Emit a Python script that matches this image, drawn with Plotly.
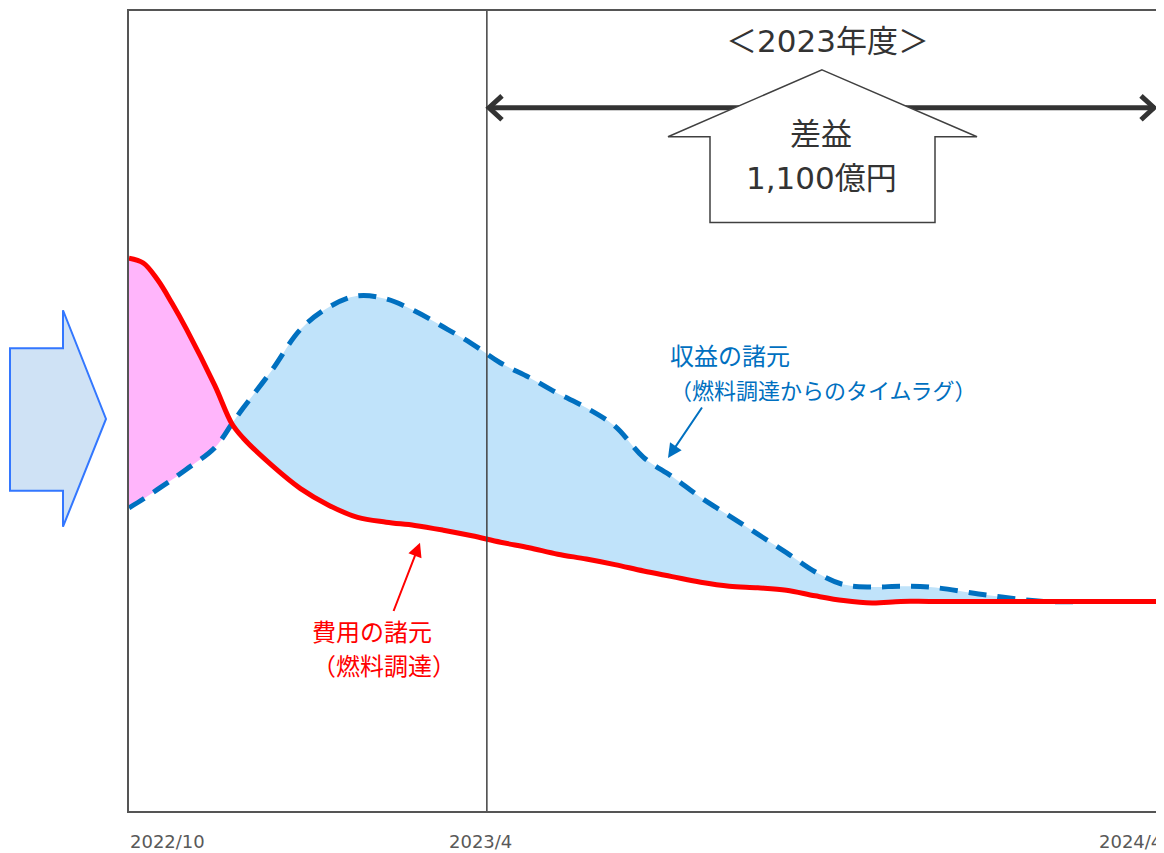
import plotly.graph_objects as go

# ---------------- data ----------------
months = [0, 0.25, 0.5, 0.75, 1, 1.5, 1.8, 2, 2.5, 3, 3.5, 4, 4.5, 5, 5.5, 6, 6.5, 7, 7.5, 8,
          8.5, 9, 9.5, 10, 10.5, 11, 11.5, 12, 12.5, 13, 13.5, 14, 15, 16, 17, 18]
cost = [69.1, 68.5, 66.4, 63.5, 60.3, 53.2, 48.4, 46.6, 43.2, 40.3, 38.2, 36.7, 36.1, 35.7, 35.1,
        34.4, 33.6, 32.9, 32.1, 31.5, 30.8, 30.0, 29.3, 28.6, 28.1, 27.9, 27.6, 26.9,
        26.3, 26.0, 26.2, 26.2, 26.2, 26.2, 26.2, 26.2]
revenue = [37.9, 39.0, 40.2, 41.4, 42.7, 45.4, 48.4, 50.4, 55.1, 60.2, 63.0, 64.4, 64.0, 62.5,
           60.5, 58.4, 56.0, 54.2, 52.2, 50.4, 48.1, 44.2, 41.8, 39.2, 36.9, 34.6, 32.3, 29.9,
           28.3, 28.0, 28.1, 28.0, 27.0, 26.2, 26.2, 26.2]
cross_idx = 6            # index where the two curves cross
tick_pos = [0, 6, 18]
tick_text = ["2022/10", "2023/4", "2024/4"]
fy_start = 6.26          # start of FY2023 marker line
x_range = [0, 18]
y_range = [0, 100]

# ---------------- layout helpers (page pixel -> axis units, decorations only) --------
OFF = 8                       # page body margin
W, H = 1164 - OFF, 853 - OFF
L, R, T, B = 129, 1158, 9, 811
def X(px):
    return (px - L) * (x_range[1] - x_range[0]) / (R - L)
def Y(py):
    return (B - py) * (y_range[1] - y_range[0]) / (B - T)
def PX(px):
    return (px - L) / (R - L)
def PY(py):
    return (B - py) / (B - T)

JP = "DejaVu Sans, Noto Sans CJK JP"
JPN = "Noto Sans CJK JP"
fig = go.Figure()

# pink fill (cost above revenue)
fig.add_trace(go.Scatter(x=months[:cross_idx + 1], y=revenue[:cross_idx + 1], mode="lines",
                         line=dict(width=0, shape="spline"), hoverinfo="skip", showlegend=False))
fig.add_trace(go.Scatter(x=months[:cross_idx + 1], y=cost[:cross_idx + 1], mode="lines",
                         line=dict(width=0, shape="spline"), fill="tonexty",
                         fillcolor="#FFB5FB", hoverinfo="skip", showlegend=False))
# blue fill (revenue above cost)
fig.add_trace(go.Scatter(x=months[cross_idx:], y=cost[cross_idx:], mode="lines",
                         line=dict(width=0, shape="spline"), hoverinfo="skip", showlegend=False))
fig.add_trace(go.Scatter(x=months[cross_idx:], y=revenue[cross_idx:], mode="lines",
                         line=dict(width=0, shape="spline"), fill="tonexty",
                         fillcolor="#C0E3FA", hoverinfo="skip", showlegend=False))
# lines
fig.add_trace(go.Scatter(x=months, y=revenue, mode="lines", name="収益の諸元",
                         line=dict(color="#0070C0", width=5, dash="18px,11px", shape="spline"),
                         showlegend=False))
fig.add_trace(go.Scatter(x=months, y=cost, mode="lines", name="費用の諸元",
                         line=dict(color="#FF0000", width=5, shape="spline"),
                         showlegend=False))

shapes = []
# FY start vertical line
shapes.append(dict(type="line", xref="x", yref="paper", x0=fy_start, x1=fy_start, y0=0, y1=1,
                   line=dict(color="#404040", width=1.5), layer="above"))
# double arrow
ay = Y(106)
shapes.append(dict(type="line", xref="x", yref="y", x0=X(490), x1=X(1155), y0=ay, y1=ay,
                   line=dict(color="#333333", width=5), layer="above"))
shapes.append(dict(type="path", xref="x", yref="y",
                   path=f"M {X(502)},{Y(94)} L {X(489)},{Y(106)} L {X(502)},{Y(118)}",
                   line=dict(color="#333333", width=5), layer="above"))
shapes.append(dict(type="path", xref="x", yref="y",
                   path=f"M {X(1141)},{Y(94)} L {X(1154)},{Y(106)} L {X(1141)},{Y(118)}",
                   line=dict(color="#333333", width=5), layer="above"))
# house-shaped up arrow
hp = [(822, 68), (977, 135), (935, 135), (935, 221), (710, 221), (710, 135), (668, 135)]
path = "M " + " L ".join(f"{X(a)},{Y(b)}" for a, b in hp) + " Z"
shapes.append(dict(type="path", xref="x", yref="y", path=path, fillcolor="white",
                   line=dict(color="#404040", width=1.5), layer="above"))
# big block arrow on the left (outside plot)
bp = [(10, 347), (63, 347), (63, 309), (106, 418), (63, 526), (63, 490), (10, 490)]
path = "M " + " L ".join(f"{PX(a)},{PY(b)}" for a, b in bp) + " Z"
shapes.append(dict(type="path", xref="paper", yref="paper", path=path, fillcolor="#CFE2F5",
                   line=dict(color="#3377FF", width=2), layer="above"))

annotations = []
for tp, tt, anc, xs in zip(tick_pos, tick_text, ["left", "center", "right"], [-1, 8, 6]):
    annotations.append(dict(x=tp, y=PY(842), xref="x", yref="paper", text=tt, showarrow=False,
                            xanchor=anc, yanchor="middle", xshift=xs,
                            font=dict(family="DejaVu Sans", size=18, color="#595959")))
annotations += [
    dict(x=X(827), y=Y(39), xref="x", yref="y", text="＜2023年度＞", showarrow=False,
         font=dict(family=JP, size=31, color="#333333")),
    dict(x=X(821), y=Y(132), xref="x", yref="y", text="差益", showarrow=False,
         font=dict(family=JP, size=31, color="#333333")),
    dict(x=X(821), y=Y(176), xref="x", yref="y", text="1,100億円", showarrow=False,
         font=dict(family=JP, size=31, color="#333333")),
    dict(x=X(668), y=Y(370), xref="x", yref="y",
         text="<span style='font-size:24px'>収益の諸元</span><br>"
              "<span style='font-size:22px'>（燃料調達からのタイムラグ）</span>",
         showarrow=False, xanchor="left", yanchor="middle", align="left",
         font=dict(family=JPN, size=26, color="#0070C0")),
    dict(x=X(310), y=Y(647), xref="x", yref="y",
         text="<span style='font-size:24px'>費用の諸元</span><br>"
              "<span style='font-size:24px'>（燃料調達）</span>",
         showarrow=False, xanchor="left", yanchor="middle", align="left",
         font=dict(family=JPN, size=26, color="#FF0000")),
    dict(x=X(668), y=Y(457), ax=X(703), ay=Y(405), xref="x", yref="y", axref="x", ayref="y",
         text="", showarrow=True, arrowhead=2, arrowsize=1.4, arrowwidth=2, arrowcolor="#0070C0"),
    dict(x=X(420), y=Y(542), ax=X(393), ay=Y(612), xref="x", yref="y", axref="x", ayref="y",
         text="", showarrow=True, arrowhead=2, arrowsize=1.4, arrowwidth=2, arrowcolor="#FF0000"),
]

fig.update_layout(
    width=W, height=H,
    margin=dict(l=L - OFF, r=W - (R - OFF), t=T - OFF, b=H - (B - OFF)),
    paper_bgcolor="white", plot_bgcolor="white",
    shapes=shapes, annotations=annotations, showlegend=False,
    xaxis=dict(range=x_range, showgrid=False, zeroline=False, showticklabels=False, ticks="",
               showline=True, mirror=True, linecolor="#555555", linewidth=2, fixedrange=True),
    yaxis=dict(range=y_range, showgrid=False, zeroline=False, showticklabels=False, ticks="",
               showline=True, mirror=True, linecolor="#555555", linewidth=2, fixedrange=True),
)
fig.write_html("out.html")
